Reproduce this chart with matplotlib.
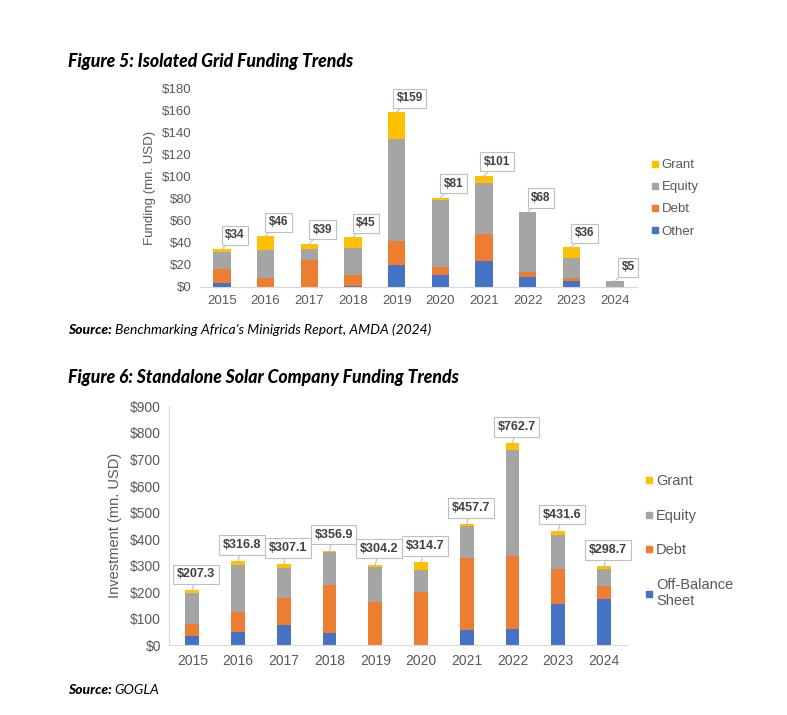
import matplotlib.pyplot as plt
from matplotlib.lines import Line2D

years = ['2015', '2016', '2017', '2018', '2019', '2020', '2021', '2022', '2023', '2024']

# Figure 5 - isolated grid funding (mn. USD)
grid_other = [3, 0, 0, 1, 19.5, 10.6, 23, 8.8, 5.2, 0]
grid_debt = [13, 8, 24, 10, 22, 7, 25, 4.3, 3, 0]
grid_equity = [16, 25.5, 10.4, 24.6, 93, 61.4, 46.6, 54.9, 17.6, 5]
grid_grant = [2, 12.5, 4.6, 9.4, 24.5, 2, 6.4, 0, 10.2, 0]
grid_totals = ['$34', '$46', '$39', '$45', '$159', '$81', '$101', '$68', '$36', '$5']

# Figure 6 - standalone solar funding (mn. USD)
solar_obs = [36, 50, 75, 48, 0, 0, 56.5, 60, 156, 173]
solar_debt = [44, 74, 102, 181, 163, 201, 270.5, 278, 130, 49]
solar_equity = [118, 179, 113, 121, 133, 84, 121, 397, 131, 67]
solar_grant = [9.3, 13.8, 17.1, 6.9, 8.2, 29.7, 9.7, 27.7, 14.6, 9.7]
solar_totals = ['$207.3', '$316.8', '$307.1', '$356.9', '$304.2', '$314.7', '$457.7', '$762.7', '$431.6', '$298.7']

BLUE = '#4472C4'
ORANGE = '#ED7D31'
GRAY = '#A5A5A5'
GOLD = '#FFC000'
TXT = '#595959'

plt.rcParams['font.family'] = ['Liberation Sans', 'DejaVu Sans']

fig = plt.figure(figsize=(7.87, 7.15), dpi=100)
W, H = 787, 715


def px_axes(left, right, top, bottom):
    return fig.add_axes([left / W, 1 - bottom / H, (right - left) / W, (bottom - top) / H])


def stacked(ax, series, colors, width):
    x = range(len(years))
    base = [0] * len(years)
    for vals, c in zip(series, colors):
        ax.bar(x, vals, width, bottom=base, color=c, linewidth=0)
        base = [b + v for b, v in zip(base, vals)]
    return base


def style_axes(ax, ymax, step, fs, left_spine=False):
    ax.set_xlim(-0.5, len(years) - 0.5)
    ax.set_ylim(0, ymax)
    ax.set_yticks(range(0, ymax + 1, step))
    ax.set_yticklabels([f'${v}' for v in range(0, ymax + 1, step)])
    ax.set_xticks(range(len(years)))
    ax.set_xticklabels(years)
    ax.tick_params(length=0, labelsize=fs, colors=TXT, pad=6)
    for s in ['top', 'right']:
        ax.spines[s].set_visible(False)
    ax.spines['left'].set_visible(left_spine)
    ax.spines['left'].set_color('#d9d9d9')
    ax.spines['bottom'].set_color('#d9d9d9')


def callouts(ax, tops, labels, dx, dy, fs):
    for i, (t, lab) in enumerate(zip(tops, labels)):
        ax.annotate(lab, xy=(i, t), xytext=(dx, dy), textcoords='offset pixels',
                    ha='center', va='bottom', fontsize=fs, fontweight='bold', color='#404040',
                    bbox=dict(boxstyle='square,pad=0.3', fc='white', ec='#bfbfbf', lw=0.8),
                    arrowprops=dict(arrowstyle='-', color='#bfbfbf', lw=0.8, shrinkA=0, shrinkB=0))


def legend(ax, labels, colors, x, y, fs, spacing):
    handles = [Line2D([], [], marker='s', ls='', color=c, markersize=5) for c in colors]
    ax.legend(handles, labels, loc='upper left', bbox_to_anchor=(x / W, 1 - y / H),
              bbox_transform=fig.transFigure, frameon=False, fontsize=fs,
              labelcolor=TXT, handletextpad=0.1, handlelength=0.8, labelspacing=spacing,
              borderpad=0, borderaxespad=0)


# Figure 5
ax1 = px_axes(200, 637, 89, 286.7)
tops = stacked(ax1, [grid_other, grid_debt, grid_equity, grid_grant], [BLUE, ORANGE, GRAY, GOLD], 0.4)
style_axes(ax1, 180, 20, 9.5)
ax1.set_ylabel('Funding (mn. USD)', fontsize=9.5, color=TXT, labelpad=4)
callouts(ax1, tops, grid_totals, 13, 8, 8.5)
legend(ax1, ['Grant', 'Equity', 'Debt', 'Other'], [GOLD, GRAY, ORANGE, BLUE], 650, 159, 9.5, 0.75)

# Figure 6
ax2 = px_axes(169.4, 627, 406.4, 645.3)
tops = stacked(ax2, [solar_obs, solar_debt, solar_equity, solar_grant], [BLUE, ORANGE, GRAY, GOLD], 0.3)
style_axes(ax2, 900, 100, 10, left_spine=True)
ax2.set_ylabel('Investment (mn. USD)', fontsize=10.5, color=TXT, labelpad=6)
callouts(ax2, tops, solar_totals, 4, 10, 9)
legend(ax2, ['Grant', 'Equity', 'Debt', 'Off-Balance\nSheet'], [GOLD, GRAY, ORANGE, BLUE], 643, 474, 10.5, 1.42)

# titles and sources
title_font = dict(family=['Lato', 'DejaVu Sans'], fontweight='black', style='italic', fontsize=12.7, color='black')
fig.text(68 / W, 1 - 61 / H, 'Figure 5: Isolated Grid Funding Trends', va='center', **title_font)
fig.text(68 / W, 1 - 378 / H, 'Figure 6: Standalone Solar Company Funding Trends', va='center', **title_font)


def source(y, rest):
    t = fig.text(68 / W, 1 - y / H, 'Source:', va='center', family=['Lato', 'DejaVu Sans'],
                 fontweight='black', style='italic', fontsize=10, color='black')
    fig.canvas.draw()
    bb = t.get_window_extent()
    fig.text((bb.x1 + 3) / W, 1 - y / H, rest, va='center', family=['Lato', 'DejaVu Sans'],
             style='italic', fontsize=10, color='black')


source(330, 'Benchmarking Africa\u2019s Minigrids Report, AMDA (2024)')
source(690, 'GOGLA')

fig.savefig('out.png', dpi=100)
